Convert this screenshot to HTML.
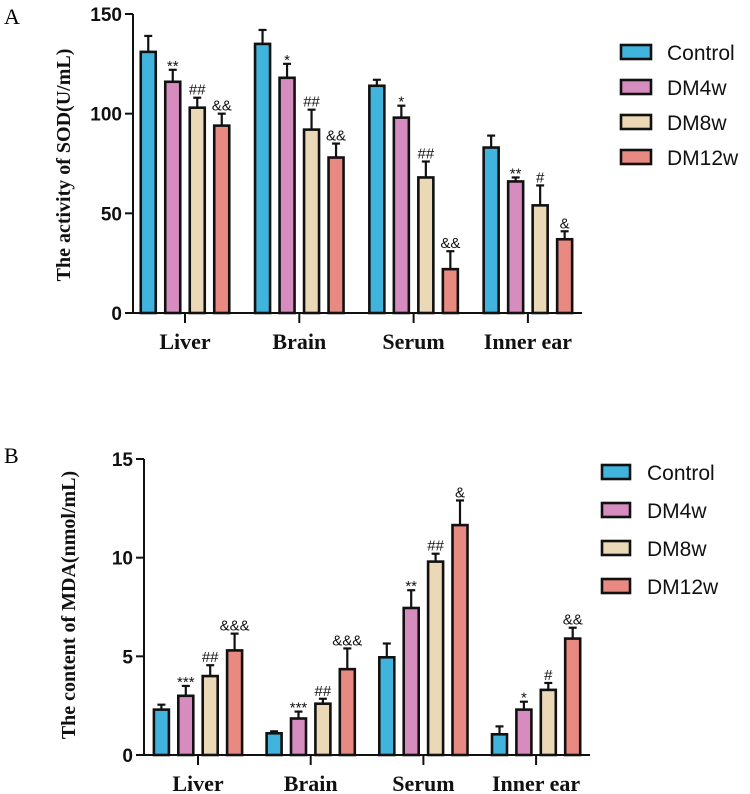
<!DOCTYPE html>
<html><head><meta charset="utf-8"><style>
body{margin:0;background:#fff;}
svg{display:block;}
</style></head><body>
<svg id="s" width="750" height="794" xmlns="http://www.w3.org/2000/svg">
<text x="4" y="24" font-family="Liberation Serif, serif" font-size="22">A</text>
<text x="4" y="463" font-family="Liberation Serif, serif" font-size="22">B</text>
</svg>
<script>
const categories = ["Liver","Brain","Serum","Inner ear"];
const seriesNames = ["Control","DM4w","DM8w","DM12w"];
const colors = ["#41B4DE","#D68CBE","#EBD8B6","#E98A82"];
const sodMeans = [[131,116,103,94],[135,118,92,78],[114,98,68,22],[83,66,54,37]];
const sodErrs = [[8,6,5,6],[7,7,10,7],[3,6,8,9],[6,2,10,4]];
const sodMarks = [["","**","##","&&"],["","*","##","&&"],["","*","##","&&"],["","**","#","&"]];
const sodTicks = [0,50,100,150];
const mdaMeans = [[2.3,3.0,4.0,5.3],[1.1,1.85,2.6,4.35],[4.95,7.45,9.8,11.65],[1.05,2.3,3.3,5.9]];
const mdaErrs = [[0.25,0.5,0.55,0.85],[0.1,0.35,0.25,1.05],[0.7,0.9,0.4,1.25],[0.4,0.4,0.35,0.55]];
const mdaMarks = [["","***","##","&&&"],["","***","##","&&&"],["","**","##","&"],["","*","#","&&"]];
const mdaTicks = [0,5,10,15];

const NS="http://www.w3.org/2000/svg";
const svg=document.getElementById('s');
function mk(tag,attrs,parent){const e=document.createElementNS(NS,tag);for(const k in attrs)e.setAttribute(k,attrs[k]);(parent||svg).appendChild(e);return e;}

function chart(cfg,means,errs,marks,ticks){
  const g=mk('g',{});
  
  
  const ymax=ticks[ticks.length-1];
  const y=v=>cfg.y0-(v/ymax)*(cfg.y0-cfg.yTop);
  const xc=i=>cfg.c0+i*cfg.step;
  means.forEach((grp,i)=>{
    grp.forEach((v,j)=>{
      const bx=xc(i)+(j-1.5)*cfg.pitch-cfg.bw/2;
      const top=y(v), et=y(v+errs[i][j]);
      const cx=bx+cfg.bw/2;
      const l=mk('line',{x1:cx,x2:cx,y1:top,y2:et,stroke:'#111','stroke-width':2.2},g);
      
      
      const c=mk('line',{x1:cx-4,x2:cx+4,y1:et,y2:et,stroke:'#111','stroke-width':2.2},g);
      
      
      const r=mk('rect',{x:bx,y:top,width:cfg.bw,height:cfg.y0-top,fill:colors[j],stroke:'#111','stroke-width':2.6},g);
      
      
      if(marks[i][j]){
        const star=marks[i][j].indexOf('*')>=0;
        const t=mk('text',{x:cx,y:et-(star?-1:3),'text-anchor':'middle','font-family':'Liberation Sans, sans-serif','font-size':15,fill:'#111'},g);
        t.textContent=marks[i][j];
        
        
      }
    });
  });
  const ya=mk('line',{x1:cfg.ax,x2:cfg.ax,y1:cfg.yTop,y2:cfg.y0+1,stroke:'#111','stroke-width':2},g);
  
  
  const xa=mk('line',{x1:cfg.ax,x2:cfg.axEnd,y1:cfg.y0,y2:cfg.y0,stroke:'#111','stroke-width':2},g);
  
  
  ticks.forEach(t=>{
    const ty=y(t);
    const tl=mk('line',{x1:cfg.ax-8,x2:cfg.ax,y1:ty,y2:ty,stroke:'#111','stroke-width':2},g);
    
    
    const tx=mk('text',{x:cfg.ax-11,y:ty+7,'text-anchor':'end','font-family':'Liberation Sans, sans-serif','font-weight':'bold','font-size':19,fill:'#111'},g);
    tx.textContent=t;
    
    
  });
  categories.forEach((c,i)=>{
    const xt=mk('line',{x1:xc(i),x2:xc(i),y1:cfg.y0,y2:cfg.y0+10,stroke:'#111','stroke-width':2},g);
    
    
    const xl=mk('text',{x:xc(i),y:cfg.y0+36,'text-anchor':'middle','font-family':'Liberation Serif, serif','font-weight':'bold','font-size':22,fill:'#111'},g);
    xl.textContent=c;
    
    
  });
  const yt=mk('text',{x:0,y:0,transform:`translate(${cfg.titleX},${cfg.titleY}) rotate(-90)`,'text-anchor':'middle','font-family':'Liberation Serif, serif','font-weight':'bold','font-size':20,fill:'#111'},g);
  yt.textContent=cfg.title;
  
  
  seriesNames.forEach((n,j)=>{
    const ly=cfg.legY+j*cfg.legStep;
    const lr=mk('rect',{x:cfg.legX,y:ly-7,width:cfg.legW,height:14,fill:colors[j],stroke:'#111','stroke-width':2.6},g);
    
    
    const lt=mk('text',{x:cfg.legTX,y:ly+8,'font-family':'Liberation Sans, sans-serif','font-size':21,fill:'#111'},g);
    lt.textContent=n;
    
    
  });
}
chart({name:'sod-chart',y0:313,yTop:14,ax:133,axEnd:582,c0:185,step:114.3,pitch:24.5,bw:15,title:'The activity of SOD(U/mL)',titleX:70,titleY:165,legX:621,legW:30,legY:52,legStep:35,legTX:667},sodMeans,sodErrs,sodMarks,sodTicks);
chart({name:'mda-chart',y0:755,yTop:459,ax:144,axEnd:590,c0:198,step:112.7,pitch:24.4,bw:15,title:'The content of MDA(nmol/mL)',titleX:75,titleY:605,legX:602,legW:28,legY:472,legStep:38,legTX:647},mdaMeans,mdaErrs,mdaMarks,mdaTicks);
</script>
</body></html>
